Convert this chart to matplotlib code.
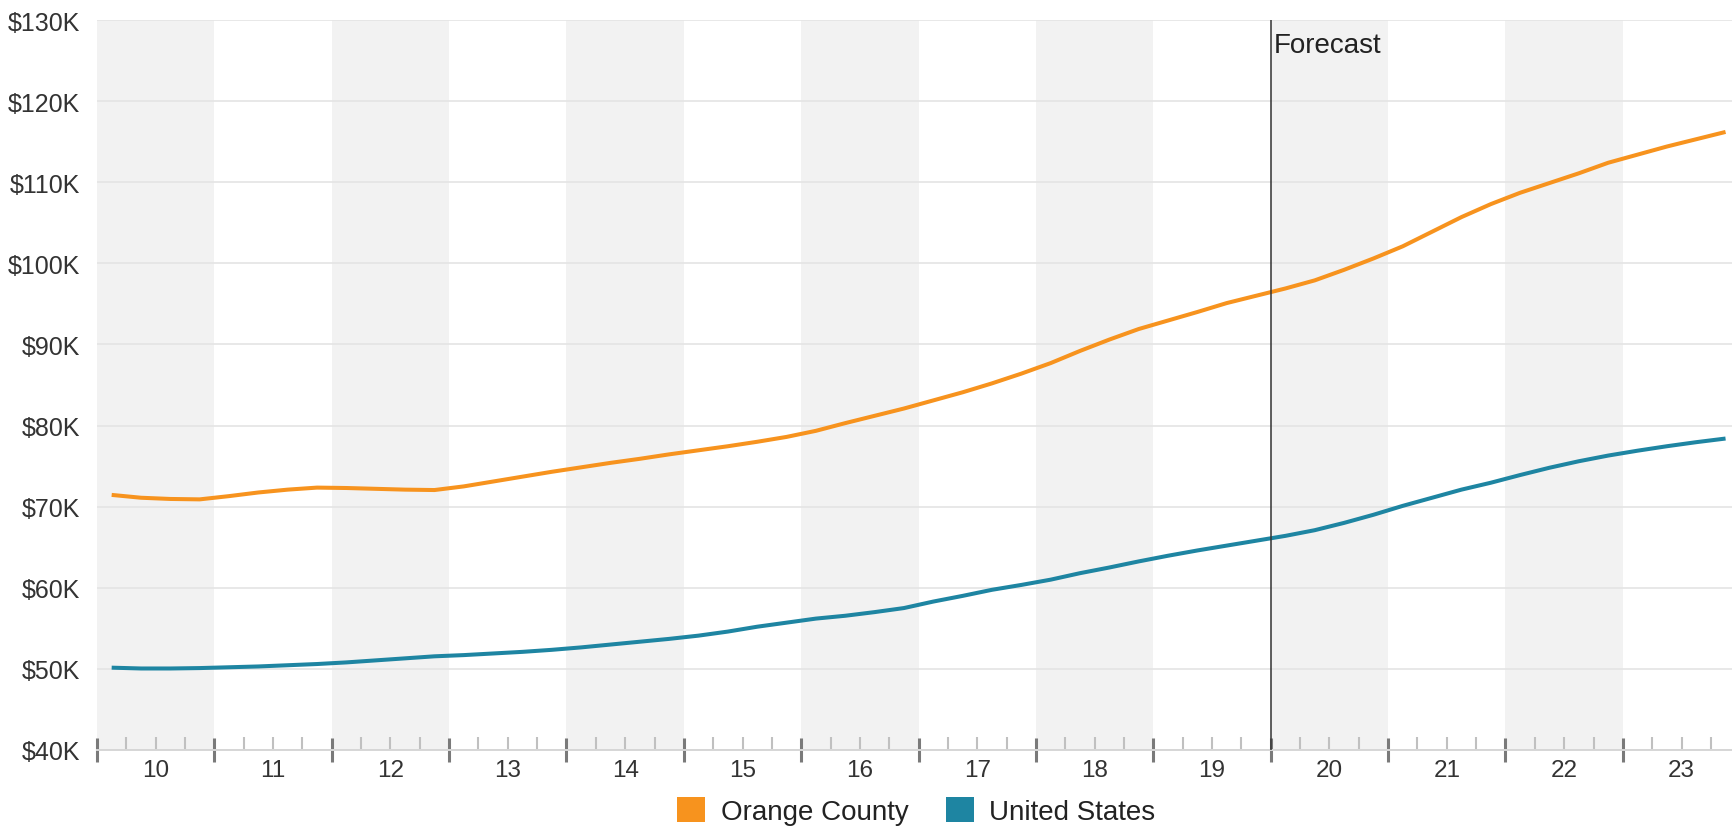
import numpy as np
import matplotlib
matplotlib.use("Agg")
import matplotlib.pyplot as plt
from matplotlib.patches import Patch
from matplotlib.ticker import FixedLocator, FixedFormatter, FuncFormatter

plt.rcParams['font.family'] = ['Liberation Sans', 'DejaVu Sans']

# quarterly values, plotted at the middle of each quarter (2010 Q1 .. 2023 Q4)
first_year = 2010
last_year = 2023
year_labels = ['10', '11', '12', '13', '14', '15', '16', '17', '18', '19', '20', '21', '22', '23']
forecast_start = 2020

orange_county = [71.45, 71.1, 70.95, 70.9, 71.3, 71.75, 72.1, 72.35,
                 72.3, 72.2, 72.1, 72.05, 72.5, 73.1, 73.7, 74.3,
                 74.85, 75.4, 75.9, 76.45, 76.95, 77.45, 78.0, 78.6,
                 79.35, 80.3, 81.2, 82.1, 83.1, 84.1, 85.2, 86.4,
                 87.7, 89.2, 90.6, 91.9, 92.95, 94.0, 95.1, 96.0,
                 96.9, 97.9, 99.2, 100.6, 102.1, 103.9, 105.7, 107.3,
                 108.7, 109.9, 111.1, 112.4, 113.4, 114.4, 115.3, 116.2]

united_states = [50.15, 50.05, 50.05, 50.1, 50.2, 50.3, 50.45, 50.6,
                 50.8, 51.05, 51.3, 51.55, 51.7, 51.9, 52.1, 52.35,
                 52.65, 53.0, 53.35, 53.7, 54.1, 54.6, 55.2, 55.7,
                 56.2, 56.55, 57.0, 57.5, 58.3, 59.0, 59.75, 60.35,
                 61.0, 61.8, 62.5, 63.25, 63.95, 64.6, 65.2, 65.8,
                 66.4, 67.1, 68.0, 69.0, 70.1, 71.1, 72.1, 72.95,
                 73.9, 74.8, 75.6, 76.3, 76.9, 77.45, 77.95, 78.4]

orange_col = '#F7931E'
blue_col = '#1E85A2'

t = first_year + 0.125 + 0.25 * np.arange(len(orange_county))

fig = plt.figure(figsize=(17.32, 8.29), dpi=100)
ax = fig.add_axes([97 / 1732, 78 / 829, 1 - 97 / 1732, 730 / 829])

# alternating year bands
for y in range(first_year, last_year + 1, 2):
    ax.axvspan(y, y + 1, color='#f2f2f2', lw=0, zorder=0)

ax.plot(t, orange_county, color=orange_col, lw=2.9, zorder=3,
        solid_capstyle='butt', solid_joinstyle='round')
ax.plot(t, united_states, color=blue_col, lw=2.9, zorder=3,
        solid_capstyle='butt', solid_joinstyle='round')

ax.axvline(forecast_start, color='#333333', lw=1.1, zorder=4)
ax.text(forecast_start + 0.03, 126.1, 'Forecast', fontsize=20, color='#222222',
        ha='left', va='baseline', zorder=5)

ax.set_xlim(first_year, last_year + 0.93)
ax.set_ylim(40, 130)

ax.set_yticks(np.arange(40, 131, 10))
ax.yaxis.set_major_formatter(FuncFormatter(lambda v, p: '${:d}K'.format(int(v))))
ax.tick_params(axis='y', length=0, pad=12, labelsize=18, labelcolor='#333333')
ax.grid(axis='y', color='#e4e4e4', lw=1.2, zorder=1)
ax.set_axisbelow(True)

# major ticks at year boundaries, minor ticks per quarter, labels at mid year
majors = list(range(first_year, last_year + 2))
minors = []
minor_labels = []
for y, lab in zip(range(first_year, last_year + 1), year_labels):
    for q in (0.25, 0.5, 0.75):
        minors.append(y + q)
        minor_labels.append(lab if q == 0.5 else '')
ax.xaxis.set_major_locator(FixedLocator(majors))
ax.xaxis.set_major_formatter(FixedFormatter([''] * len(majors)))
ax.xaxis.set_minor_locator(FixedLocator(minors))
ax.xaxis.set_minor_formatter(FixedFormatter(minor_labels))
ax.tick_params(axis='x', which='major', direction='inout', length=17, width=2.2, color='#7a7a7a')
ax.tick_params(axis='x', which='minor', direction='in', length=9.5, width=1.5, color='#c0c0c0',
               pad=6.5, labelsize=17.5, labelcolor='#333333')

for s in ('top', 'right', 'left'):
    ax.spines[s].set_visible(False)
ax.spines['bottom'].set_color('#d6d6d6')
ax.spines['bottom'].set_linewidth(1.4)

handles = [Patch(facecolor=orange_col, edgecolor='none', label='Orange County'),
           Patch(facecolor=blue_col, edgecolor='none', label='United States')]
fig.legend(handles=handles, loc='center', bbox_to_anchor=(0.529, 0.02), ncol=2,
           frameon=False, fontsize=20, handlelength=1.0, handleheight=1.0,
           handletextpad=0.55, columnspacing=1.35, labelcolor='#222222')

fig.savefig('out.png', dpi=100)
